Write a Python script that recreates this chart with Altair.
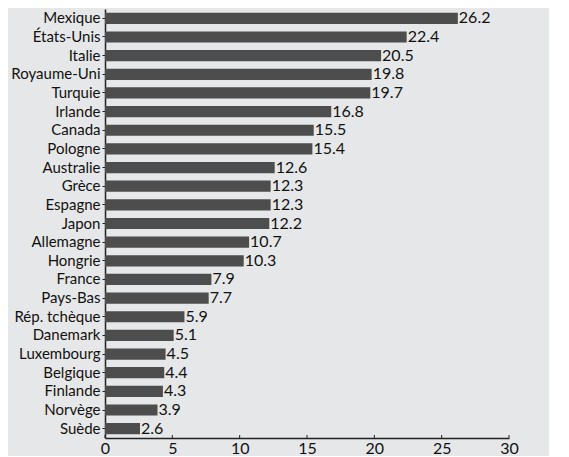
import altair as alt
import pandas as pd

countries = ["Mexique", "États-Unis", "Italie", "Royaume-Uni", "Turquie", "Irlande",
             "Canada", "Pologne", "Australie", "Grèce", "Espagne", "Japon", "Allemagne",
             "Hongrie", "France", "Pays-Bas", "Rép. tchèque", "Danemark", "Luxembourg",
             "Belgique", "Finlande", "Norvège", "Suède"]
values = [26.2, 22.4, 20.5, 19.8, 19.7, 16.8, 15.5, 15.4, 12.6, 12.3, 12.3, 12.2, 10.7,
          10.3, 7.9, 7.7, 5.9, 5.1, 4.5, 4.4, 4.3, 3.9, 2.6]
x_ticks = [0, 5, 10, 15, 20, 25, 30]

df = pd.DataFrame({"pays": countries, "val": values})
df["label"] = df["val"].map(lambda v: f"{v:.1f}")
ticks_df = pd.DataFrame({"val": x_ticks})

FONT = "Lato"
H = 429
y = alt.Y("pays:N", sort=countries, title=None,
          scale=alt.Scale(paddingInner=0.4, paddingOuter=0.2),
          axis=alt.Axis(labelFont=FONT, labelFontSize=15, labelColor="#111",
                        domainColor="#222", domainWidth=1.5, tickColor="#222",
                        tickSize=3, labelPadding=2))
x = alt.X("val:Q", title=None, scale=alt.Scale(domain=[0, 30], nice=False),
          axis=alt.Axis(values=x_ticks, grid=False, labelFont=FONT, labelFontSize=16,
                        labelColor="#111", domainColor="#222", domainWidth=1.5,
                        ticks=False, tickSize=0, labelPadding=15,
                        labelBaseline="alphabetic", labelFlush=False))

bars = alt.Chart(df).mark_bar(color="#4d4d4d").encode(x=x, y=y)
text = alt.Chart(df).mark_text(align="left", baseline="middle", dx=1, font=FONT,
                               fontSize=16, color="#111").encode(x=x, y=y, text="label:N")
tick_marks = alt.Chart(ticks_df).mark_rule(color="#222", strokeWidth=1).encode(
    x=alt.X("val:Q", scale=alt.Scale(domain=[0, 30], nice=False)),
    y=alt.value(H - 3), y2=alt.value(H))

chart = (bars + text + tick_marks).properties(
    width=404, height=H,
    autosize=alt.AutoSizeParams(type="none"),
    padding={"left": 97, "top": 1, "right": 40, "bottom": 18},
    background="#e6e7e8",
).configure_view(stroke=None, fill="#e6e7e8")

chart.save("out.html", embed_options={"renderer": "svg", "actions": False})
